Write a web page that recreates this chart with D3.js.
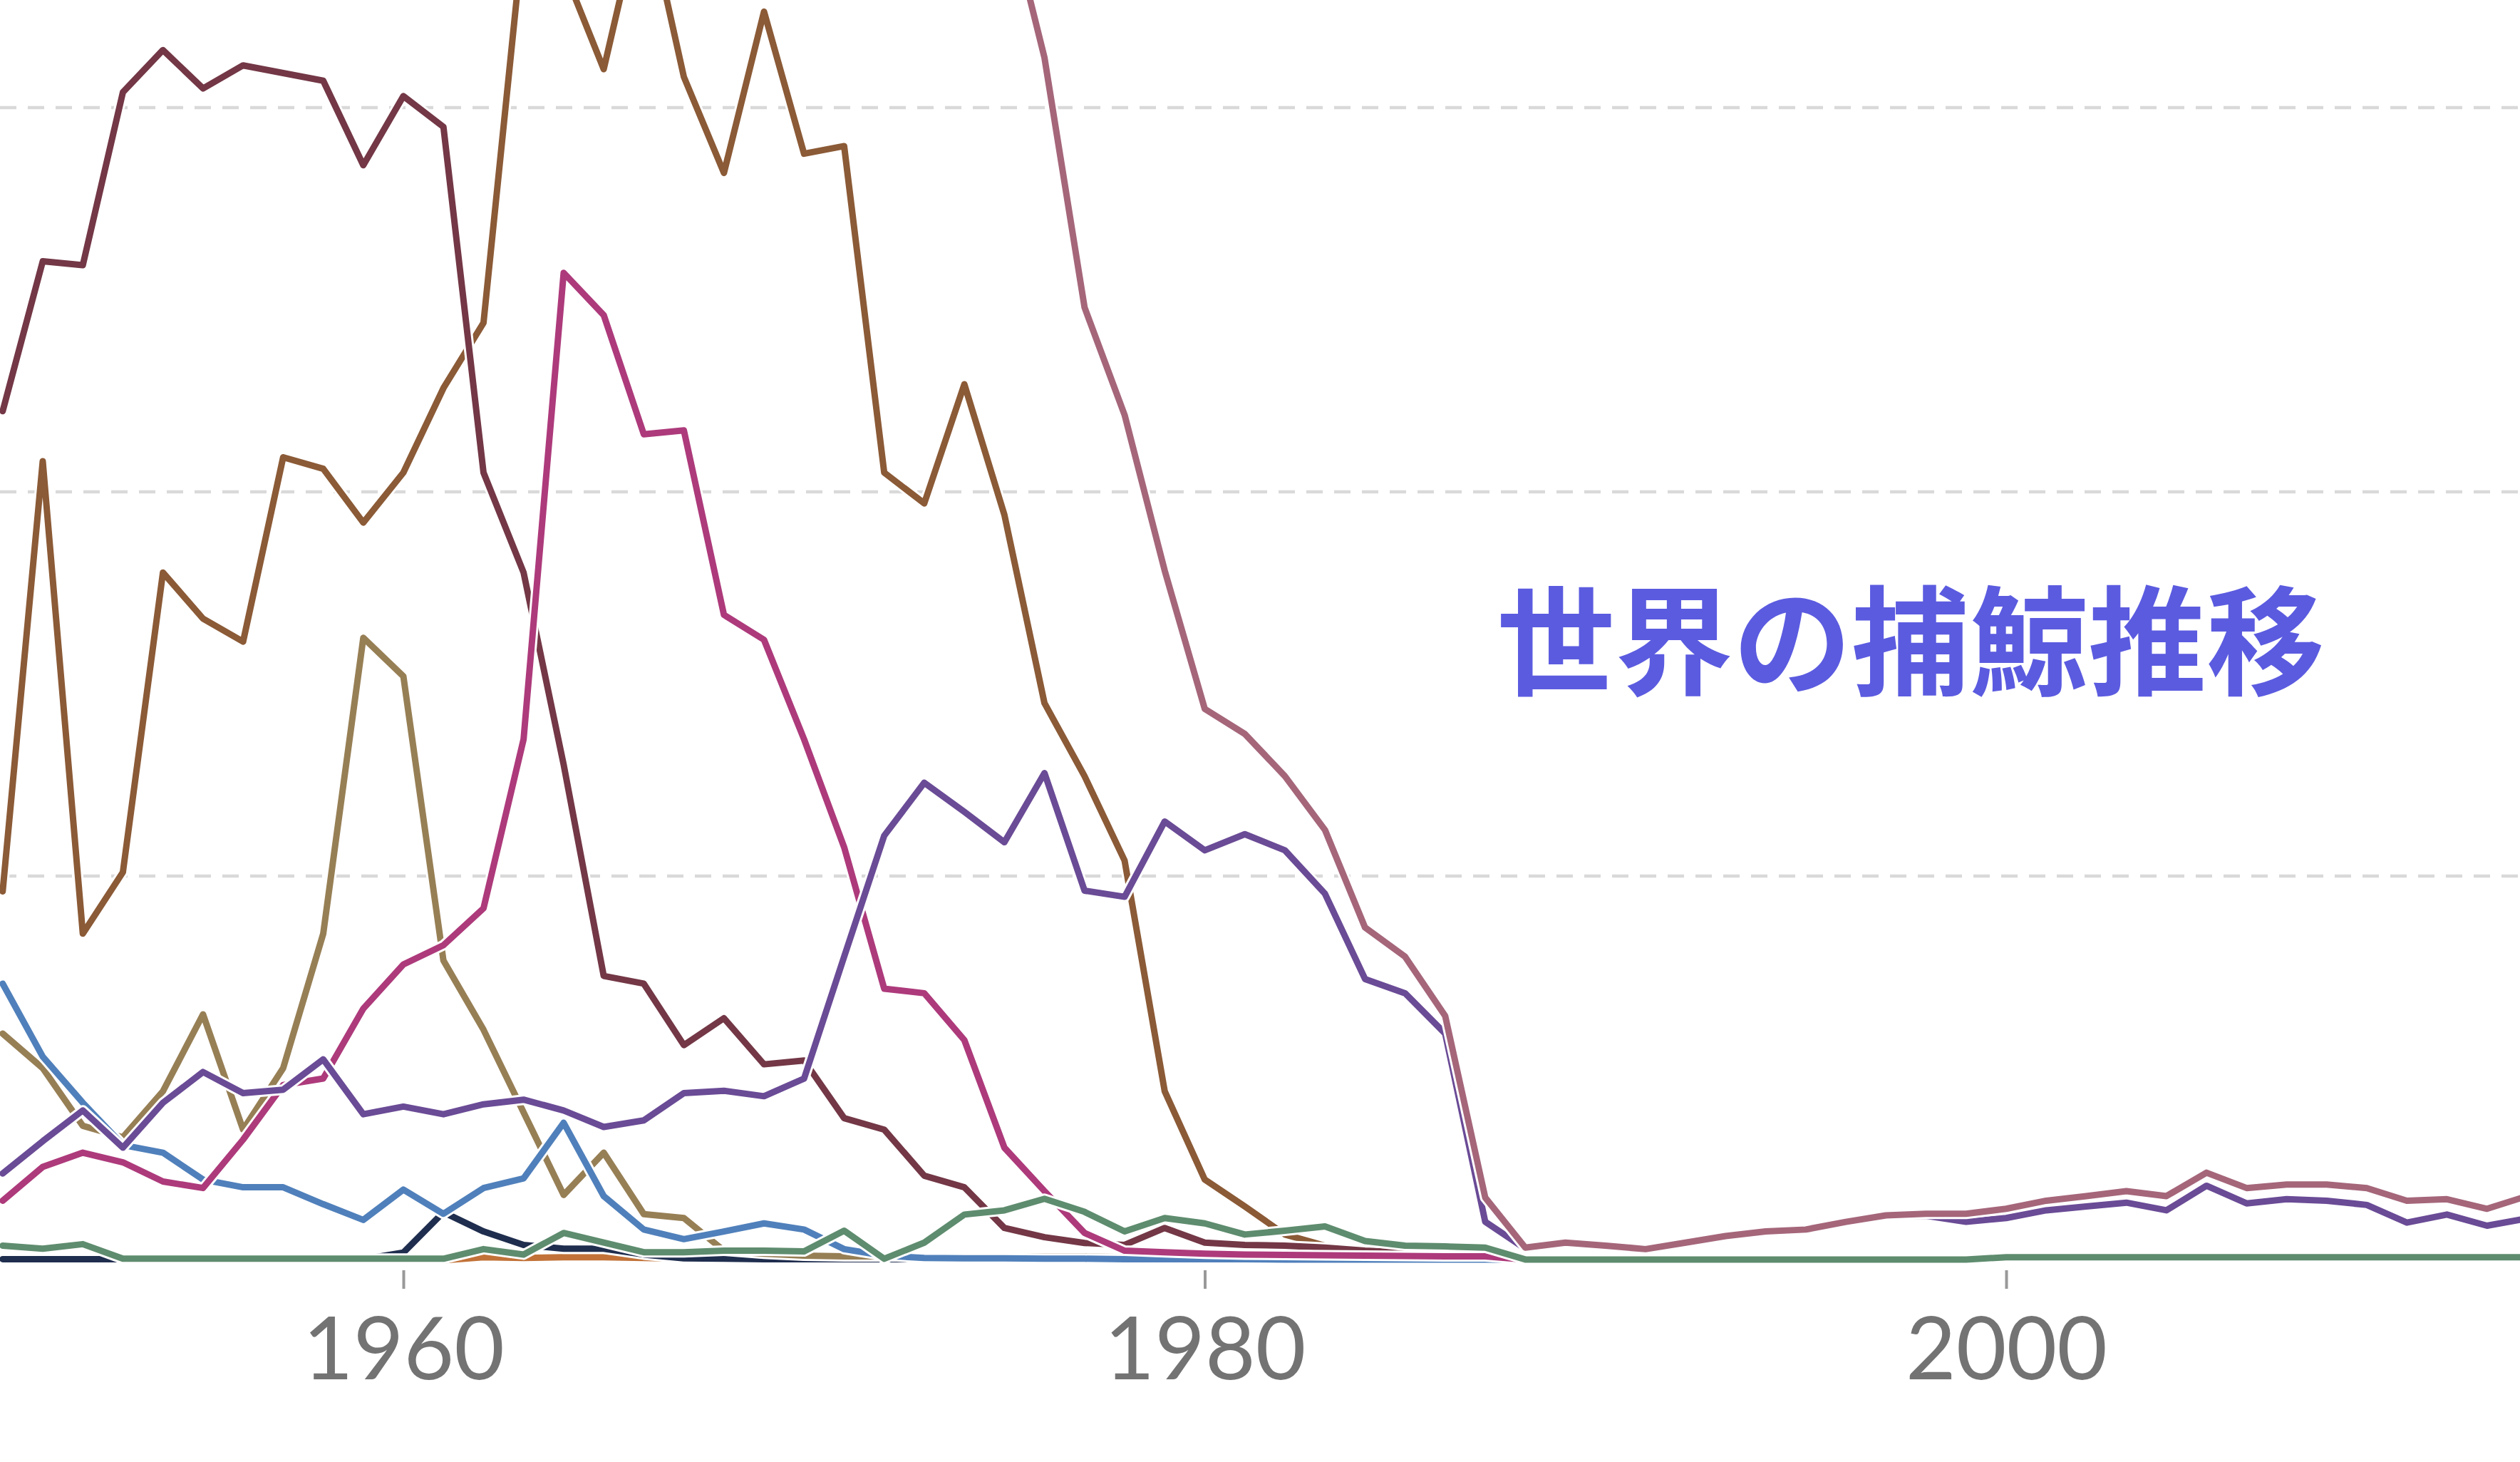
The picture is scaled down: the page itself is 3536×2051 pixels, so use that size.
<!DOCTYPE html>
<html>
<head>
<meta charset="utf-8">
<script src="https://cdnjs.cloudflare.com/ajax/libs/d3/7.8.5/d3.min.js"></script>
<style>
  body { margin: 0; background: #fff; }
  svg { display: block; }
</style>
</head>
<body>
<script>
// canvas size
const width = 3536;
const height = 2051;

// data: whales killed per year, in thousands (1950 onward)
const startYear = 1950;
const tickYears = [1960, 1980, 2000];
const gridValues = [10, 20, 30];

const finWhale = [22.1, 26.0, 25.9, 30.4, 31.5, 30.5, 31.1, 30.9, 30.7, 28.5,
  30.3, 29.5, 20.5, 17.9, 12.9, 7.4, 7.2, 5.6, 6.3, 5.1,
  5.2, 3.7, 3.4, 2.2, 1.9, 0.84, 0.6, 0.45, 0.4, 0.84,
  0.46, 0.4, 0.38, 0.33, 0.25, 0.2, 0.15, 0.1, 0.05];

const spermWhale = [9.6, 20.8, 8.5, 10.1, 17.9, 16.7, 16.1, 20.9, 20.6, 19.2,
  20.5, 22.7, 24.4, 34.6, 33.6, 31.0, 35.5, 30.8, 28.3, 32.5,
  28.8, 29.0, 20.5, 19.7, 22.8, 19.4, 14.5, 12.6, 10.4, 4.4,
  2.1, 1.4, 0.67, 0.38, 0.25, 0.15, 0.12, 0.08, 0.02];

const humpback = [5.9, 5.0, 3.5, 3.2, 4.4, 6.4, 3.4, 5.0, 8.5, 16.2,
  15.2, 7.8, 6.0, 3.85, 1.7, 2.8, 1.2, 1.1, 0.25, 0.17,
  0.12, 0.1, 0.1, 0.1, 0.1, 0.1, 0.1, 0.1, 0.08, 0.08,
  0.08, 0.06, 0.06, 0.05, 0.05, 0.04, 0.04, 0.04, 0.02,
  0.02, 0.02, 0.02, 0.02, 0.02, 0.02, 0.02, 0.02, 0.02, 0.02, 0.02,
  0.11, 0.11, 0.11, 0.11, 0.11, 0.11, 0.11, 0.11, 0.11, 0.11, 0.11, 0.11, 0.11, 0.11, 0.11];

const blueWhale = [7.2, 5.3, 4.1, 3.0, 2.8, 2.1, 1.9, 1.9, 1.46, 1.05,
  1.84, 1.21, 1.88, 2.13, 3.58, 1.67, 0.8, 0.55, 0.75, 0.96,
  0.8, 0.29, 0.12, 0.06, 0.05, 0.05, 0.04, 0.04, 0.03, 0.03,
  0.03, 0.03, 0.02, 0.02, 0.02, 0.02, 0.02, 0.02, 0.01];

const seiWhale = [1.55, 2.43, 2.8, 2.55, 2.05, 1.88, 3.14, 4.56, 4.73, 6.55,
  7.7, 8.2, 9.16, 13.56, 25.7, 24.6, 21.5, 21.6, 16.8, 16.15,
  13.56, 10.75, 7.07, 6.95, 5.73, 2.93, 1.8, 0.71, 0.25, 0.21,
  0.17, 0.15, 0.14, 0.13, 0.12, 0.11, 0.1, 0.1, 0.02];

const minkeWhale = [2.26, 3.1, 3.9, 2.93, 4.1, 4.9, 4.35, 4.44, 5.23, 3.8,
  4.0, 3.8, 4.06, 4.18, 3.9, 3.47, 3.64, 4.35, 4.41, 4.27,
  4.73, 7.9, 11.05, 12.43, 11.67, 10.88, 12.68, 9.62, 9.46, 11.42,
  10.67, 11.09, 10.67, 9.54, 7.32, 6.95, 5.9, 1.0, 0.3,
  0.42, 0.34, 0.25, 0.42, 0.59, 0.71, 0.76, 0.96, 1.13, 1.16, 1.0,
  1.1, 1.3, 1.4, 1.5, 1.3, 1.94, 1.48, 1.59, 1.55, 1.44, 0.98, 1.19, 0.9, 1.09, 1.15];

const rightWhale = [0.03, 0.03, 0.03, 0.03, 0.03, 0.03, 0.03, 0.03, 0.03, 0.03,
  0.2, 1.25, 0.75, 0.4, 0.3, 0.3, 0.15, 0.05, 0.04, 0.03,
  0.03, 0.03, 0.03, 0.03, 0.03, 0.03, 0.03, 0.03, 0.03, 0.03,
  0.03, 0.03, 0.03, 0.03, 0.03, 0.03, 0.03, 0.03, 0.02];

const grayWhale = [0.38, 0.3, 0.42, 0.04, 0.04, 0.04, 0.04, 0.04, 0.04, 0.04,
  0.04, 0.04, 0.29, 0.15, 0.71, 0.46, 0.21, 0.21, 0.25, 0.25,
  0.23, 0.77, 0.04, 0.46, 1.19, 1.3, 1.6, 1.26, 0.75, 1.1,
  0.96, 0.67, 0.77, 0.88, 0.5, 0.38, 0.36, 0.33, 0.02,
  0.02, 0.02, 0.02, 0.02, 0.02, 0.02, 0.02, 0.02, 0.02, 0.02, 0.02,
  0.08, 0.08, 0.08, 0.08, 0.08, 0.08, 0.08, 0.08, 0.08, 0.08, 0.08, 0.08, 0.08, 0.08, 0.08];

const brydeWhale = [0, 0, 0, 0, 0, 0, 0, 0, 0, 0,
  0, 0, 0.08, 0.06, 0.08, 0.08, 0.06, 0.04, 0, 0,
  0, 0, 0, 0, 0, 0, 0, 0, 0, 0,
  0, 0, 0, 0, 0, 0, 0, 0, 0];

const allWhales = [49.0, 62.9, 49.1, 52.2, 62.8, 62.5, 60.0, 67.7, 71.2, 75.3,
  79.5, 74.5, 67.0, 76.6, 82.4, 71.7, 70.2, 64.2, 57.1, 59.4,
  53.4, 52.5, 42.3, 41.9, 43.4, 35.5, 31.3, 24.8, 22.0, 17.95,
  14.35, 13.7, 12.6, 11.2, 8.66, 7.9, 6.36, 1.63, 0.33,
  0.46, 0.38, 0.29, 0.46, 0.63, 0.75, 0.8, 1.0, 1.17, 1.21, 1.21,
  1.34, 1.55, 1.67, 1.8, 1.67, 2.28, 1.88, 1.97, 1.97, 1.88, 1.55, 1.59, 1.34, 1.67, 1.7];

// drawing order: first one ends up at the back
const series = [
  { name: "brydes", values: brydeWhale, color: "#c27238" },
  { name: "right", values: rightWhale, color: "#1f2d4e" },
  { name: "sperm", values: spermWhale, color: "#8b5a36" },
  { name: "humpback", values: humpback, color: "#977f55" },
  { name: "fin", values: finWhale, color: "#733746" },
  { name: "blue", values: blueWhale, color: "#5080bb" },
  { name: "sei", values: seiWhale, color: "#ad3a7b" },
  { name: "minke", values: minkeWhale, color: "#6a4b96" },
  { name: "gray", values: grayWhale, color: "#5e8c6e" },
  { name: "all", values: allWhales, color: "#a5667a" }
];

const svg = d3.select("body")
  .append("svg")
  .attr("width", width)
  .attr("height", height);

// scales
const x = d3.scaleLinear()
  .domain([1960, 2000])
  .range([566, 2815]);

const y = d3.scaleLinear()
  .domain([0, 10])
  .range([1768, 1229]);

// dashed gridlines
svg.append("g")
  .attr("class", "grid")
  .selectAll("line")
  .data(gridValues)
  .enter()
  .append("line")
  .attr("x1", 0)
  .attr("x2", width)
  .attr("y1", d => y(d))
  .attr("y2", d => y(d))
  .attr("stroke", "#d9d9d9")
  .attr("stroke-width", 4.5)
  .attr("stroke-dasharray", "23 16");

// x axis: ticks and labels only
const xAxis = d3.axisBottom(x)
  .tickValues(tickYears)
  .tickFormat(d3.format("d"))
  .tickSize(26)
  .tickPadding(42);

const axisG = svg.append("g")
  .attr("transform", "translate(0,1782)")
  .call(xAxis);

axisG.select(".domain").remove();
axisG.selectAll(".tick line")
  .attr("stroke", "#999")
  .attr("stroke-width", 4);
axisG.selectAll(".tick text")
  .attr("fill", "#737373")
  .attr("font-family", "Lato, sans-serif")
  .attr("font-size", 122)
  .attr("dy", null)
  .attr("y", 153);

// lines
const line = d3.line()
  .defined(d => d != null)
  .x((d, i) => x(startYear + i))
  .y(d => y(d));

const lineGroup = svg.append("g").attr("class", "lines");

series.forEach(s => {
  const g = lineGroup.append("g").attr("class", "series " + s.name);
  // white halo behind each line
  g.append("path")
    .attr("d", line(s.values))
    .attr("fill", "none")
    .attr("stroke", "#fff")
    .attr("stroke-width", 15)
    .attr("stroke-linejoin", "round")
    .attr("stroke-linecap", "round");
  g.append("path")
    .attr("d", line(s.values))
    .attr("fill", "none")
    .attr("stroke", s.color)
    .attr("stroke-width", 9)
    .attr("stroke-linejoin", "round")
    .attr("stroke-linecap", "round");
});

// title
svg.append("text")
  .attr("x", 2100)
  .attr("y", 962)
  .attr("font-family", "'Noto Sans CJK JP', sans-serif")
  .attr("font-weight", 700)
  .attr("font-size", 166)
  .attr("fill", "#5b5be0")
  .text("世界の捕鯨推移");
</script>
</body>
</html>
